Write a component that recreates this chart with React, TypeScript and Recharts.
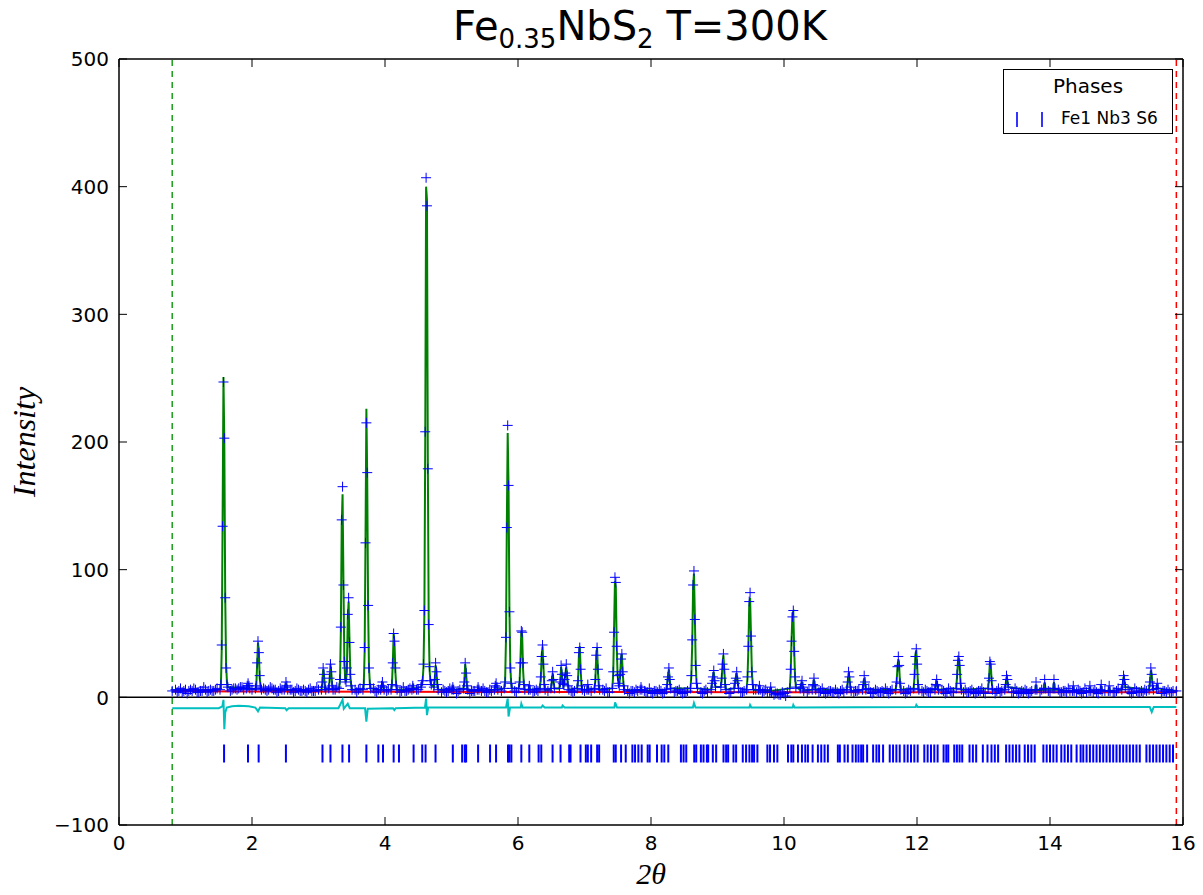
import React from "react";
import {
  ComposedChart, Line, Scatter, XAxis, YAxis, ReferenceLine, Legend,
} from "recharts";

// background counts of the scan, 0.800 -> 15.875 deg; two interleaved
// 0.05-deg series (on-step and half-step points)
const scanStart = 0.8;
const scanStep = 0.05;
const baselineObs = [
  5, 6, 5, 4, 6, 5, 5, 6, 4, 5, 6, 5, 5, 6, 5, 6, 6, 7, 6, 7,
  7, 8, 7, 7, 6, 7, 7, 6, 6, 6, 7, 6, 5, 6, 6, 5, 6, 5, 6, 5,
  5, 6, 5, 5, 6, 5, 6, 5, 5, 6, 6, 5, 6, 6, 5, 6, 6, 5, 6, 5,
  6, 5, 6, 5, 5, 6, 5, 5, 6, 5, 5, 6, 6, 5, 6, 6, 7, 6, 6, 5,
  5, 4, 5, 5, 4, 5, 5, 4, 5, 4, 5, 5, 4, 5, 5, 4, 5, 5, 4, 5,
  5, 5, 6, 5, 5, 4, 5, 5, 4, 5, 5, 4, 5, 5, 5, 6, 5, 5, 6, 5,
  5, 5, 6, 5, 5, 6, 5, 5, 4, 5, 5, 4, 5, 5, 4, 5, 4, 5, 5, 4,
  5, 4, 5, 4, 4, 5, 4, 5, 4, 4, 5, 4, 5, 4, 4, 5, 4, 5, 4, 4,
  5, 4, 4, 5, 4, 4, 5, 4, 4, 5, 4, 4, 5, 4, 4, 5, 4, 4, 5, 4,
  3, 2, 3, 2, 3, 4, 4, 5, 4, 4, 5, 4, 4, 5, 4, 5, 4, 4, 5, 4,
  4, 5, 4, 4, 5, 4, 5, 4, 4, 5, 4, 4, 5, 4, 4, 5, 5, 4, 5, 4,
  5, 4, 5, 4, 5, 5, 4, 5, 4, 5, 4, 4, 5, 4, 5, 4, 4, 5, 4, 4,
  5, 4, 4, 5, 4, 5, 4, 4, 5, 4, 4, 5, 4, 4, 5, 4, 4, 5, 4, 5,
  4, 4, 5, 4, 4, 5, 4, 4, 5, 4, 5, 4, 4, 5, 4, 4, 5, 4, 4, 5,
  4, 5, 4, 4, 5, 4, 4, 5, 4, 4, 5, 4, 4, 5, 4, 4, 5, 4, 5, 4,
  4, 5, 4,
];
const baselineObsHalf = [
  6, 4, 7, 5, 3, 6, 7, 4, 5, 8, 4, 6, 5, 7, 4, 6, 8, 5, 7, 6,
  8, 6, 9, 5, 7, 8, 6, 7, 5, 8, 6, 4, 7, 5, 8, 6, 4, 7, 5, 6,
  4, 7, 5, 8, 4, 6, 7, 3, 6, 8, 4, 7, 5, 6, 8, 4, 7, 5, 8, 4,
  7, 4, 6, 8, 5, 3, 7, 6, 4, 8, 5, 7, 4, 6, 8, 5, 7, 9, 5, 6,
  3, 6, 4, 7, 5, 3, 6, 4, 7, 3, 5, 6, 3, 7, 4, 6, 3, 5, 7, 4,
  6, 3, 7, 4, 6, 3, 5, 7, 4, 6, 3, 7, 5, 4, 7, 6, 4, 7, 5, 6,
  4, 7, 5, 3, 6, 7, 4, 5, 3, 6, 7, 4, 5, 3, 6, 4, 7, 3, 5, 6,
  3, 6, 4, 7, 3, 5, 6, 3, 4, 7, 3, 5, 6, 3, 4, 6, 3, 5, 7, 3,
  6, 3, 5, 7, 3, 4, 6, 3, 5, 6, 3, 4, 7, 3, 5, 6, 3, 4, 6, 3,
  1, 3, 2, 4, 1, 3, 5, 3, 6, 4, 3, 6, 3, 5, 4, 7, 3, 5, 4, 6,
  3, 6, 4, 7, 3, 5, 6, 3, 4, 7, 3, 6, 4, 5, 7, 3, 6, 4, 5, 7,
  3, 6, 4, 7, 3, 5, 6, 4, 7, 3, 5, 6, 3, 7, 4, 5, 6, 3, 6, 4,
  6, 3, 5, 7, 3, 4, 6, 3, 7, 5, 3, 6, 4, 7, 3, 5, 6, 3, 5, 7,
  3, 6, 4, 5, 7, 3, 6, 4, 5, 7, 3, 5, 6, 3, 7, 4, 5, 6, 3, 6,
  5, 3, 6, 4, 7, 3, 5, 6, 3, 7, 4, 5, 6, 3, 6, 4, 7, 3, 5, 6,
  4, 6,
];

// peak regions: [2theta, observed, calculated]
const lowAngleProfile: [number, number, number][] = [
  [0.8, 5, 5.5],
  [1.519, 6, 6], [1.532, 10, 8], [1.545, 41, 38], [1.558, 134, 140], [1.571, 247, 251],
  [1.584, 203, 198], [1.597, 78, 80], [1.61, 23, 27], [1.623, 10, 12], [1.636, 8, 8],
  [1.915, 7, 7], [1.928, 9, 8], [1.941, 11, 10], [1.954, 9, 8], [1.967, 7, 7],
  [2.051, 7, 6], [2.064, 9, 9], [2.077, 27, 25], [2.09, 44, 43], [2.103, 35, 36],
  [2.116, 17, 15], [2.129, 8, 8], [2.142, 6, 6],
  [2.485, 6, 5], [2.498, 8, 8], [2.511, 12, 11], [2.524, 9, 8], [2.537, 6, 5],
  [3.044, 6, 5], [3.057, 12, 11], [3.07, 23, 22], [3.083, 18, 17], [3.096, 8, 8], [3.109, 6, 6],
  [3.154, 7, 6], [3.167, 15, 14], [3.18, 26, 26], [3.193, 20, 19], [3.206, 9, 9], [3.219, 6, 6],
  [3.31, 7, 7], [3.323, 14, 13], [3.336, 55, 52], [3.349, 139, 135], [3.362, 165, 159],
  [3.375, 88, 92], [3.388, 28, 30], [3.401, 14, 14], [3.414, 12, 12], [3.427, 23, 22],
  [3.44, 65, 62], [3.453, 78, 75], [3.466, 43, 45], [3.479, 18, 17], [3.492, 9, 9], [3.505, 6, 6],
  [3.668, 6, 6], [3.681, 10, 10], [3.694, 39, 36], [3.707, 121, 125], [3.72, 215, 226],
  [3.733, 176, 170], [3.746, 72, 70], [3.759, 23, 24], [3.772, 10, 11], [3.785, 7, 7],
  [3.935, 6, 6], [3.948, 9, 8], [3.961, 12, 12], [3.974, 8, 8], [3.987, 6, 6],
];

const midAngleProfile: [number, number, number][] = [
  [4.091, 6, 6], [4.104, 10, 10], [4.117, 27, 26], [4.13, 50, 50], [4.143, 44, 42],
  [4.156, 23, 20], [4.169, 9, 9], [4.182, 6, 6],
  [4.405, 6, 6], [4.418, 9, 9], [4.431, 7, 7],
  [4.54, 8, 8], [4.553, 10, 10], [4.566, 13, 13], [4.579, 26, 24], [4.592, 68, 65],
  [4.605, 208, 200], [4.618, 407, 400], [4.631, 385, 390], [4.644, 179, 185], [4.657, 57, 60],
  [4.67, 24, 22], [4.683, 13, 12], [4.696, 10, 10],
  [4.735, 8, 8], [4.748, 14, 14], [4.761, 27, 25], [4.774, 20, 21], [4.787, 10, 10], [4.8, 6, 6],
  [5.007, 6, 6], [5.02, 8, 8], [5.033, 6, 6],
  [5.18, 7, 7], [5.193, 12, 12], [5.206, 27, 26], [5.219, 19, 20], [5.232, 9, 9], [5.245, 6, 6],
  [5.387, 6, 5], [5.4, 8, 7], [5.413, 6, 5],
  [5.645, 6, 6], [5.658, 9, 8], [5.671, 11, 11], [5.684, 8, 8], [5.697, 6, 6],
  [5.793, 7, 7], [5.806, 12, 12], [5.819, 47, 45], [5.832, 133, 135], [5.845, 213, 207],
  [5.858, 166, 165], [5.871, 67, 70], [5.884, 23, 25], [5.897, 11, 11], [5.91, 7, 7],
  [6.011, 7, 7], [6.024, 12, 12], [6.037, 27, 30], [6.05, 52, 52], [6.063, 51, 48],
  [6.076, 27, 22], [6.089, 10, 10], [6.102, 6, 6],
  [6.157, 6, 6], [6.17, 9, 8], [6.183, 6, 6],
  [6.33, 7, 7], [6.343, 16, 15], [6.356, 32, 33], [6.369, 41, 40], [6.382, 26, 25],
  [6.395, 10, 10], [6.408, 6, 6],
  [6.495, 7, 6], [6.508, 13, 12], [6.521, 20, 19], [6.534, 14, 13], [6.547, 7, 7],
  [6.622, 7, 7], [6.635, 12, 11], [6.648, 25, 24], [6.661, 18, 17], [6.674, 11, 10],
  [6.687, 10, 9], [6.7, 14, 13], [6.713, 19, 18], [6.726, 26, 24], [6.739, 17, 16],
  [6.752, 9, 9], [6.765, 6, 6],
  [6.89, 7, 7], [6.903, 13, 13], [6.916, 35, 33], [6.929, 39, 40], [6.942, 22, 22],
  [6.955, 9, 9], [6.968, 6, 6],
  [7.037, 6, 6], [7.05, 10, 9], [7.063, 6, 6],
  [7.15, 7, 7], [7.163, 14, 13], [7.176, 33, 32], [7.189, 39, 39], [7.202, 22, 21],
  [7.215, 9, 9], [7.228, 6, 6],
  [7.419, 7, 7], [7.432, 20, 18], [7.445, 51, 55], [7.458, 94, 91], [7.471, 90, 86],
  [7.484, 40, 42], [7.497, 17, 18], [7.51, 11, 11], [7.523, 9, 9], [7.536, 18, 17],
  [7.549, 30, 31], [7.562, 34, 34], [7.575, 20, 19], [7.588, 9, 9], [7.601, 6, 6],
  [7.837, 6, 5], [7.85, 8, 7], [7.863, 6, 5],
];

const highAngleProfile: [number, number, number][] = [
  [8.23, 6, 6], [8.243, 10, 10], [8.256, 16, 17], [8.269, 23, 22], [8.282, 14, 14], [8.295, 7, 7],
  [8.594, 7, 7], [8.607, 17, 17], [8.62, 45, 42], [8.633, 88, 86], [8.646, 99, 97],
  [8.659, 61, 65], [8.672, 25, 27], [8.685, 11, 11], [8.698, 7, 7],
  [8.905, 6, 6], [8.918, 11, 11], [8.931, 16, 16], [8.944, 21, 20], [8.957, 13, 13], [8.97, 8, 8],
  [9.05, 8, 8], [9.063, 15, 15], [9.076, 26, 27], [9.089, 34, 33], [9.102, 22, 22],
  [9.115, 10, 10], [9.128, 6, 6],
  [9.25, 7, 7], [9.263, 11, 11], [9.276, 15, 16], [9.289, 20, 19], [9.302, 13, 13], [9.315, 7, 7],
  [9.438, 6, 6], [9.451, 16, 15], [9.464, 40, 38], [9.477, 75, 72], [9.49, 82, 78],
  [9.503, 48, 50], [9.516, 20, 22], [9.529, 10, 10], [9.542, 6, 6],
  [9.617, 6, 5], [9.63, 9, 8], [9.643, 6, 5],
  [9.787, 4, 5], [9.8, 8, 7], [9.813, 4, 5],
  [10.088, 7, 7], [10.101, 22, 20], [10.114, 44, 46], [10.127, 63, 66], [10.14, 68, 67],
  [10.153, 36, 38], [10.166, 16, 16], [10.179, 8, 8],
  [10.245, 7, 6], [10.258, 10, 10], [10.271, 13, 12], [10.284, 8, 8], [10.297, 5, 5],
  [10.425, 6, 6], [10.438, 10, 10], [10.451, 15, 14], [10.464, 9, 9], [10.477, 6, 6],
  [10.945, 6, 6], [10.958, 12, 12], [10.971, 20, 19], [10.984, 16, 16], [10.997, 8, 8], [11.01, 5, 5],
  [11.18, 6, 6], [11.193, 10, 10], [11.206, 17, 15], [11.219, 12, 12], [11.232, 6, 6],
  [11.68, 6, 6], [11.693, 12, 12], [11.706, 24, 23], [11.719, 32, 30], [11.732, 25, 24],
  [11.745, 11, 11], [11.758, 6, 6],
  [11.95, 7, 7], [11.963, 18, 17], [11.976, 32, 33], [11.989, 38, 37], [12.002, 26, 25],
  [12.015, 10, 10], [12.028, 6, 6],
  [12.27, 6, 6], [12.283, 10, 10], [12.296, 14, 13], [12.309, 9, 9], [12.322, 6, 6],
  [12.59, 7, 7], [12.603, 18, 17], [12.616, 29, 28], [12.629, 32, 31], [12.642, 25, 24],
  [12.655, 11, 11], [12.668, 6, 6],
  [13.07, 7, 7], [13.083, 15, 15], [13.096, 28, 27], [13.109, 26, 26], [13.122, 13, 13], [13.135, 6, 6],
  [13.32, 6, 6], [13.333, 10, 10], [13.346, 17, 16], [13.359, 14, 14], [13.372, 8, 8],
  [13.777, 6, 5], [13.79, 12, 10], [13.803, 6, 5],
  [13.907, 7, 6], [13.92, 14, 12], [13.933, 7, 6],
  [14.047, 7, 6], [14.06, 14, 12], [14.073, 7, 6],
  [14.337, 5, 5], [14.35, 9, 8], [14.363, 5, 5],
  [14.587, 5, 5], [14.6, 9, 8], [14.613, 5, 5],
  [14.757, 6, 5], [14.77, 10, 9], [14.783, 5, 5],
  [14.877, 5, 5], [14.89, 9, 8], [14.903, 5, 5],
  [15.08, 6, 6], [15.093, 10, 10], [15.106, 17, 16], [15.119, 14, 14], [15.132, 8, 8],
  [15.49, 6, 6], [15.503, 12, 12], [15.516, 23, 21], [15.529, 18, 18], [15.542, 9, 9], [15.555, 6, 6],
  [15.6, 7, 7], [15.613, 11, 10], [15.626, 7, 7],
  [15.9, 5, 5],
];

// refined background
const backgroundX = [0.8, 2, 4, 6, 8, 10, 12, 14, 15.9];
const backgroundY = [4.8, 4.6, 4.4, 4.2, 4.1, 4.0, 4.0, 4.0, 4.0];

// obs - calc, shifted down
const diffX = [
  0.8, 1.5, 1.555, 1.571, 1.584, 1.597, 1.62, 1.7, 1.8, 1.95, 2.05, 2.09, 2.12,
  2.5, 2.52, 2.55, 3.3, 3.362, 3.38, 3.44, 3.47, 3.7, 3.72, 3.74, 4.12, 4.14, 4.16,
  4.6, 4.618, 4.631, 4.65, 5.82, 5.845, 5.858, 5.88, 6.04, 6.05, 6.07, 6.35, 6.37, 6.4,
  6.66, 6.67, 6.7, 7.45, 7.46, 7.49, 8.63, 8.646, 8.67, 9.48, 9.49, 9.51, 10.13, 10.14,
  10.16, 11.98, 11.99, 12.01, 15.5, 15.53, 15.56, 15.9,
];
const diffY = [
  -8.5, -8.5, -7, -2, -25, -12, -8, -7, -6.5, -7, -8, -11, -8,
  -8.5, -10, -8.5, -8.5, -2, -9, -5, -8.5, -8.5, -19, -9, -8.5, -10, -8.5,
  -8, -1, -14, -8, -8, -1, -15, -8, -8, -5, -8, -8, -6.5, -8,
  -8, -6.5, -8, -8, -4, -8, -8, -4.5, -8, -8, -6, -8, -8, -6,
  -8, -7.5, -6, -7.5, -7.5, -11.5, -7.5, -7.5,
];

// Bragg reflection positions, Fe1 Nb3 S6
const reflections = [
  1.58, 1.94, 2.10, 2.51, 3.06, 3.18, 3.36, 3.46, 3.72, 3.90, 3.97, 4.13, 4.21, 4.43,
  4.56, 4.61, 4.76, 5.02, 5.16, 5.20, 5.22, 5.40, 5.58, 5.67, 5.85, 5.87, 5.90, 6.05,
  6.17, 6.31, 6.35, 6.52, 6.64, 6.77, 6.79, 6.94, 7.02, 7.05, 7.10, 7.19, 7.22, 7.44,
  7.47, 7.55, 7.62, 7.72, 7.76, 7.81, 7.86, 7.95, 7.98, 8.09, 8.16, 8.20, 8.26, 8.45,
  8.49, 8.53, 8.65, 8.68, 8.75, 8.79, 8.84, 8.86, 8.93, 8.98, 9.09, 9.13, 9.16, 9.24,
  9.28, 9.38, 9.43, 9.48, 9.52, 9.55, 9.60, 9.75, 9.79, 9.85, 9.90, 10.06, 10.11, 10.14,
  10.21, 10.27, 10.32, 10.36, 10.43, 10.51, 10.56, 10.61, 10.66, 10.81, 10.84, 10.91,
  10.96, 11.03, 11.08, 11.12, 11.16, 11.19, 11.25, 11.34, 11.39, 11.43, 11.49, 11.59,
  11.64, 11.69, 11.74, 11.81, 11.86, 11.91, 11.96, 12.01, 12.11, 12.16, 12.21, 12.26,
  12.31, 12.40, 12.44, 12.47, 12.56, 12.60, 12.64, 12.68, 12.79, 12.84, 12.89, 12.99,
  13.06, 13.12, 13.17, 13.22, 13.34, 13.39, 13.44, 13.49, 13.54, 13.62, 13.67, 13.72,
  13.77, 13.90, 13.95, 14.00, 14.05, 14.10, 14.17, 14.22, 14.27, 14.32, 14.40, 14.46,
  14.50, 14.55, 14.60, 14.65, 14.70, 14.75, 14.80, 14.85, 14.90, 14.95, 15.00, 15.05,
  15.10, 15.15, 15.20, 15.25, 15.30, 15.35, 15.45, 15.50, 15.55, 15.60, 15.65, 15.70,
  15.75, 15.80, 15.85,
];
const reflectionRow = -44;

const excludedLow = 0.8;
const excludedHigh = 15.9;
const xTicks = [0, 2, 4, 6, 8, 10, 12, 14, 16];
const yTicks = [-100, 0, 100, 200, 300, 400, 500];

// layout
const W = 1203;
const H = 895;
const PLOT_TOP = 59;
const PLOT_RIGHT = 1183;
const FONT = "'DejaVu Sans', sans-serif";

const profile = [...lowAngleProfile, ...midAngleProfile, ...highAngleProfile];
const notUnderPeak = (p: { x: number }) => !profile.some(([px]) => Math.abs(px - p.x) < 0.03);
const obsData = [
  ...baselineObs.map((y, i) => ({ x: +(scanStart + i * scanStep).toFixed(3), y })).filter(notUnderPeak),
  ...baselineObsHalf
    .map((y, i) => ({ x: +(scanStart + scanStep / 2 + i * scanStep).toFixed(3), y }))
    .filter(notUnderPeak),
  ...profile.map(([x, o]) => ({ x, y: o })),
];
const calcData = profile.map(([x, , c]) => ({ x, y: c }));
const bkgData = backgroundX.map((x, i) => ({ x, y: backgroundY[i] }));
const diffData = diffX.map((x, i) => ({ x, y: diffY[i] }));
const tickData = reflections.map((x) => ({ x, y: reflectionRow }));

const PlusMarker = (p: any) => (
  <path
    d={`M${p.cx - 5},${p.cy}H${p.cx + 5}M${p.cx},${p.cy - 5}V${p.cy + 5}`}
    stroke="#0000ff"
    strokeWidth={1}
    fill="none"
  />
);

const ReflectionMark = (p: any) => (
  <line x1={p.cx} x2={p.cx} y1={p.cy - 9} y2={p.cy + 9} stroke="#0000ff" strokeWidth={2} />
);

const fmt = (v: number) => (v < 0 ? "\u2212" + Math.abs(v) : String(v));

const XTick = ({ x, y, payload }: any) => (
  <g>
    <line x1={x} x2={x} y1={y} y2={y - 8} stroke="#000" />
    <line x1={x} x2={x} y1={PLOT_TOP} y2={PLOT_TOP + 8} stroke="#000" />
    <text x={x} y={y + 25} textAnchor="middle" fontSize={20} fontFamily={FONT} fill="#000">
      {fmt(payload.value)}
    </text>
  </g>
);

const YTick = ({ x, y, payload }: any) => (
  <g>
    <line x1={x} x2={x + 8} y1={y} y2={y} stroke="#000" />
    <line x1={PLOT_RIGHT} x2={PLOT_RIGHT - 8} y1={y} y2={y} stroke="#000" />
    <text x={x - 10} y={y} dy="0.36em" textAnchor="end" fontSize={20} fontFamily={FONT} fill="#000">
      {fmt(payload.value)}
    </text>
  </g>
);

const PhaseLegend = () => (
  <div
    style={{
      width: 168, height: 63, border: "1.5px solid #000", background: "#fff",
      fontFamily: FONT, color: "#000", position: "relative",
    }}
  >
    <div style={{ position: "absolute", top: 4, width: "100%", textAlign: "center", fontSize: 20 }}>
      Phases
    </div>
    <svg width={60} height={20} style={{ position: "absolute", left: 0, top: 40 }}>
      <line x1={13} x2={13} y1={2} y2={17} stroke="#0000ff" strokeWidth={1.6} />
      <line x1={38} x2={38} y1={2} y2={17} stroke="#0000ff" strokeWidth={1.6} />
    </svg>
    <div style={{ position: "absolute", left: 57, top: 38, fontSize: 17, whiteSpace: "nowrap" }}>
      Fe1 Nb3 S6
    </div>
  </div>
);

export default function App() {
  return (
    <div style={{ position: "absolute", left: 0, top: 0, width: W, height: H, background: "#fff" }}>
      <div
        style={{
          position: "absolute", left: 640, top: 6, transform: "translateX(-50%)",
          fontFamily: FONT, fontSize: 40, lineHeight: "40px", whiteSpace: "nowrap", color: "#000",
        }}
      >
        Fe<span style={{ fontSize: "0.65em", verticalAlign: "-0.32em", lineHeight: 0 }}>0.35</span>
        NbS<span style={{ fontSize: "0.65em", verticalAlign: "-0.32em", lineHeight: 0 }}>2</span> T=300K
      </div>
      <div
        style={{
          position: "absolute", left: 24, top: 442, transform: "translate(-50%,-50%) rotate(-90deg)",
          fontFamily: "'Liberation Serif', serif", fontStyle: "italic", fontSize: 32, whiteSpace: "nowrap",
        }}
      >
        Intensity
      </div>
      <div
        style={{
          position: "absolute", left: 651, top: 874, transform: "translate(-50%,-50%)",
          fontFamily: "'Liberation Serif', serif", fontStyle: "italic", fontSize: 30, whiteSpace: "nowrap",
        }}
      >
        2θ
      </div>
      <ComposedChart width={W} height={H} margin={{ top: 59, right: 20, bottom: 40, left: 59 }}>
        <XAxis
          type="number" dataKey="x" domain={[0, 16]} ticks={xTicks} allowDataOverflow
          height={30} tickSize={0} tickMargin={0} tickLine={false} tick={<XTick />}
          axisLine={{ stroke: "#000", strokeWidth: 1.5 }}
        />
        <YAxis
          type="number" dataKey="y" domain={[-100, 500]} ticks={yTicks} allowDataOverflow
          width={60} tickSize={0} tickMargin={0} tickLine={false} tick={<YTick />}
          axisLine={{ stroke: "#000", strokeWidth: 1.5 }}
        />
        <ReferenceLine y={500} stroke="#000" strokeWidth={1.5} />
        <ReferenceLine x={16} stroke="#000" strokeWidth={1.5} />
        <ReferenceLine y={0} stroke="#000" strokeWidth={1.5} />
        <Scatter name="obs" data={obsData} shape={<PlusMarker />} isAnimationActive={false} />
        <Line
          name="calc" data={calcData} dataKey="y" type="linear" stroke="#008000" strokeWidth={2}
          dot={false} activeDot={false} isAnimationActive={false}
        />
        <Line
          name="bkg" data={bkgData} dataKey="y" type="linear" stroke="#ff0000" strokeWidth={2}
          dot={false} activeDot={false} isAnimationActive={false}
        />
        <Line
          name="diff" data={diffData} dataKey="y" type="linear" stroke="#00bfbf" strokeWidth={2}
          dot={false} activeDot={false} isAnimationActive={false}
        />
        <Scatter name="Fe1 Nb3 S6" data={tickData} shape={<ReflectionMark />} isAnimationActive={false} />
        <ReferenceLine x={excludedLow} stroke="#1a9e1a" strokeWidth={1.5} strokeDasharray="6 5" />
        <ReferenceLine x={excludedHigh} stroke="#ff0000" strokeWidth={1.5} strokeDasharray="6 5" />
        <Legend
          layout="horizontal" verticalAlign="middle" align="center"
          wrapperStyle={{ left: 1003, top: 69, width: 170, height: 65 }}
          content={() => <PhaseLegend />}
        />
      </ComposedChart>
    </div>
  );
}
